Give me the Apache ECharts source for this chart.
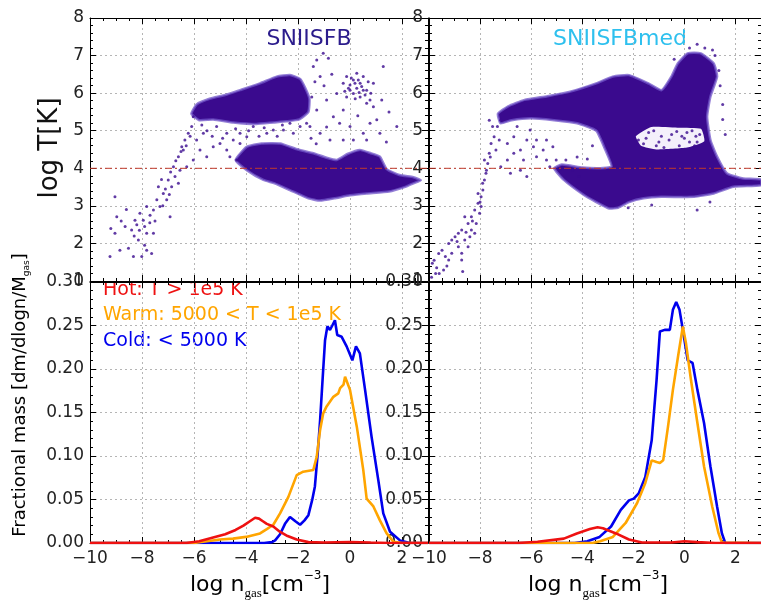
<!DOCTYPE html>
<html><head><meta charset="utf-8">
<script src="https://cdn.jsdelivr.net/npm/echarts@6/dist/echarts.min.js"></script>
<style>html,body{margin:0;padding:0;background:#fff}#c{width:761px;height:609px}</style>
</head><body><div id="c"></div>
<script>
// ---------- data ----------
const panelTitles = ['SNIISFB', 'SNIISFBmed'];
const legendLabels = ['Hot: T > 1e5 K', 'Warm: 5000 < T < 1e5 K', 'Cold: < 5000 K'];
const refLogT = 4;

// line profiles [log n, fractional mass]
const leftHot = [[-10,0],[-6.3,0],[-5.8,0.002],[-5.3,0.006],[-4.8,0.010],[-4.4,0.015],[-4.1,0.020],[-3.85,0.025],[-3.65,0.029],[-3.5,0.028],[-3.35,0.025],[-3.2,0.022],[-2.95,0.019],[-2.7,0.013],[-2.4,0.008],[-2.05,0.004],[-1.6,0.001],[-1,0.0005],[0,0.0012],[0.8,0.0005],[1.5,0],[3,0]];
const leftWarm = [[-10,0],[-6,0],[-5.5,0.002],[-5,0.004],[-4.5,0.005],[-4,0.007],[-3.46,0.011],[-3.2,0.016],[-2.95,0.021],[-2.69,0.034],[-2.37,0.053],[-2.05,0.078],[-1.8,0.082],[-1.41,0.084],[-1.28,0.099],[-1.15,0.13],[-1.03,0.149],[-0.9,0.157],[-0.64,0.168],[-0.45,0.172],[-0.38,0.178],[-0.25,0.182],[-0.19,0.191],[0.0,0.176],[0.26,0.134],[0.51,0.084],[0.64,0.051],[0.9,0.042],[1.15,0.026],[1.41,0.011],[1.67,0.0015],[2,0],[3,0]];
const leftCold = [[-10,0],[-3.3,0],[-3.0,0.001],[-2.88,0.003],[-2.69,0.010],[-2.5,0.022],[-2.31,0.030],[-2.1,0.025],[-1.92,0.021],[-1.75,0.026],[-1.6,0.032],[-1.45,0.050],[-1.35,0.065],[-1.25,0.10],[-1.15,0.141],[-1.05,0.19],[-0.96,0.233],[-0.87,0.249],[-0.77,0.245],[-0.68,0.25],[-0.58,0.256],[-0.49,0.239],[-0.32,0.237],[-0.13,0.226],[0.09,0.210],[0.23,0.226],[0.38,0.218],[0.58,0.176],[0.83,0.122],[1.09,0.072],[1.28,0.034],[1.54,0.013],[1.92,0.003],[2.3,0],[3,0]];
const rightHot = [[-10,0],[-6.5,0],[-5.75,0.0015],[-4.72,0.005],[-4.21,0.011],[-3.7,0.016],[-3.4,0.018],[-3.19,0.017],[-2.68,0.011],[-2.17,0.004],[-1.66,0.0005],[-0.5,0.0005],[0,0.002],[0.5,0.001],[1.2,0],[3,0]];
const rightWarm = [[-10,0],[-3.6,0],[-3.3,0.002],[-2.8,0.007],[-2.3,0.023],[-1.85,0.046],[-1.53,0.069],[-1.28,0.095],[-1.09,0.093],[-0.96,0.092],[-0.83,0.095],[-0.64,0.134],[-0.45,0.176],[-0.25,0.214],[-0.06,0.249],[0.06,0.230],[0.26,0.187],[0.51,0.138],[0.77,0.088],[1.09,0.042],[1.34,0.011],[1.47,0.0005],[3,0]];
const rightCold = [[-10,0],[-4.3,0],[-3.8,0.002],[-3.32,0.007],[-2.87,0.019],[-2.49,0.038],[-2.17,0.049],[-1.98,0.051],[-1.79,0.057],[-1.53,0.076],[-1.28,0.118],[-1.09,0.187],[-0.96,0.243],[-0.77,0.245],[-0.57,0.245],[-0.45,0.268],[-0.32,0.277],[-0.19,0.268],[-0.06,0.245],[0.13,0.210],[0.32,0.207],[0.51,0.176],[0.77,0.138],[1.02,0.088],[1.28,0.042],[1.47,0.011],[1.6,0],[3,0]];

// dense regions of the phase diagrams (outlines, [log n, log T])
const leftUpperBlob = [[-6.1,5.45],[-5.9,5.7],[-5.4,5.85],[-4.8,5.95],[-4.23,6.08],[-3.46,6.26],[-2.82,6.44],[-2.31,6.48],[-1.92,6.38],[-1.73,6.15],[-1.56,5.85],[-1.6,5.5],[-1.95,5.3],[-2.44,5.25],[-2.95,5.22],[-3.6,5.18],[-4.49,5.22],[-5.26,5.3],[-5.8,5.28]];
const leftLowerBlob = [[-4.4,4.22],[-3.97,4.57],[-3.4,4.66],[-2.69,4.66],[-2.0,4.5],[-1.41,4.4],[-0.9,4.28],[-0.51,4.22],[-0.1,4.38],[0.38,4.49],[0.8,4.4],[1.15,4.31],[1.41,3.98],[1.9,3.82],[2.44,3.76],[2.72,3.68],[2.44,3.6],[2.18,3.52],[1.5,3.38],[0.64,3.33],[0,3.28],[-0.6,3.2],[-1.15,3.14],[-1.6,3.2],[-2.31,3.42],[-2.9,3.6],[-3.33,3.69],[-3.97,3.95]];
const rightBlob = [[-7.3,5.45],[-6.9,5.65],[-6.26,5.82],[-5.36,5.92],[-4.47,6.04],[-3.45,6.26],[-2.81,6.44],[-2.17,6.48],[-1.41,6.26],[-0.89,6.08],[-0.51,6.44],[-0.26,6.79],[0.13,7.06],[0.64,7.06],[1.15,6.79],[1.28,6.44],[1.02,5.91],[0.89,5.37],[1.02,4.75],[1.28,4.31],[1.66,3.87],[2.3,3.73],[3,3.7],[3,3.55],[1.92,3.51],[1.15,3.33],[0.38,3.24],[-0.89,3.24],[-1.6,3.2],[-2.17,3.1],[-2.6,2.95],[-2.94,2.93],[-3.45,3.1],[-3.96,3.3],[-4.72,3.69],[-5.1,4.0],[-4.8,4.1],[-4.0,4.02],[-3.3,4.0],[-2.85,4.05],[-3.1,4.5],[-3.45,5.0],[-4.2,5.2],[-5.1,5.28],[-6.0,5.33],[-6.77,5.28],[-7.2,5.2]];
const rightHole = [[-1.9,4.85],[-1.3,5.1],[-0.2,5.08],[0.65,5.05],[0.78,4.72],[0.1,4.55],[-1.1,4.5],[-1.7,4.6]];

// individual sparse particles [log n, log T]
const leftSparse = [
[-9.23,1.65],[-9.04,2.27],[-8.85,1.82],[-8.52,1.87],[-8.33,1.65],[-8.01,1.65],[-7.82,1.82],[-7.63,1.73],[-8.97,2.71],[-8.65,2.45],[-8.4,2.36],[-8.27,2.62],[-8.08,2.8],[-7.95,2.62],[-7.82,2.98],[-7.69,2.75],[-7.56,2.89],[-7.43,3.16],[-7.31,2.98],[-7.18,3.33],[-7.05,3.16],[-6.92,2.71],[-6.86,3.51],[-6.99,3.69],[-6.73,3.78],[-6.79,4.04],[-6.54,3.95],[-6.6,4.31],[-6.41,4.49],[-6.35,4.75],[-6.22,4.93],[-6.09,5.11],[-6.03,5.37],[-6.47,4.57],[-7.82,2.27],[-8.14,2.09],[-7.56,2.27],[-7.37,3.51],[-9.04,3.24],[-8.2,2.5],[-8.1,2.35],[-7.9,2.45],[-8.3,2.2],[-7.7,2.55],[-7.5,2.6],[-7.2,3.0],[-7.1,3.45],[-6.9,3.9],[-6.7,4.2],[-6.5,4.45],[-6.3,4.6],[-6.15,4.85],[-6.6,3.6],[-6.95,3.3],[-7.25,3.7],[-8.6,2.9],[-8.8,2.6],[-9.2,2.4],[-7.9,1.95],
[-5.9,4.75],[-5.77,4.49],[-5.51,4.31],[-5.26,4.57],[-5.0,4.66],[-4.74,4.49],[-4.49,4.75],[-4.23,4.93],[-5.13,5.11],[-5.64,4.93],[-4.62,4.31],[-4.36,4.22],[-6.03,4.22],[-6.28,4.04],[-4.74,4.93],[-3.97,4.84],[-3.2,4.93],[-3.72,5.11],[-2.56,5.02],[-2.18,4.93],[-1.92,5.11],[-1.67,5.2],[-2.31,5.2],[-2.95,5.02],[-4.23,4.66],[-5.5,5.0],[-5.3,4.85],[-4.9,4.8],[-3.5,4.85],[-2.8,4.85],[-1.5,4.8],[-1.3,4.65],[-5.7,5.15],[-4.4,5.05],[-3.9,5.0],[-3.3,5.08],[-2.6,5.15],
[-1.41,6.71],[-1.28,6.88],[-1.03,7.06],[-0.83,6.93],[-1.15,6.44],[-1.47,5.9],[-1.28,5.55],[-0.9,5.82],[-0.64,5.37],[-0.51,5.99],[-0.26,5.55],[0.0,5.11],[0.13,4.75],[-0.26,4.75],[-0.77,4.75],[-1.15,4.93],[0.51,4.93],[0.77,5.2],[1.03,5.29],[1.15,4.93],[1.22,5.82],[1.28,6.71],[1.8,5.11],[0.64,4.75],[-1.54,5.11],[-1.92,5.55],[-1.0,6.2],[-0.7,6.5],[-1.35,6.3],[-0.4,5.2],[0.3,5.4],[-0.9,5.1],[1.5,5.5],[1.4,4.7],
[-0.26,6.26],[-0.13,6.44],[0.0,6.22],[0.13,6.35],[0.26,6.13],[0.39,6.26],[0.51,6.44],[0.64,6.08],[0.77,5.82],[0.13,5.99],[-0.13,5.9],[0.39,5.9],[0.9,6.26],[0.26,6.53],[0.0,6.08],[0.51,6.08],[0.19,6.26],[0.32,6.35],[-0.06,6.13],[0.64,5.73],[0.9,5.64],[0.05,6.4],[0.45,6.18],[0.7,6.3],[-0.2,6.05],[0.35,6.02],[0.58,5.95],[0.2,5.85],[0.8,6.0]
];
const rightSparse = [
[-9.87,1.47],[-9.74,1.2],[-9.49,1.82],[-9.36,1.65],[-9.23,2.0],[-9.11,1.74],[-8.98,2.18],[-8.85,1.91],[-8.72,2.36],[-8.72,1.74],[-8.6,2.09],[-8.47,2.53],[-8.4,2.18],[-8.34,2.71],[-8.21,2.89],[-8.15,2.53],[-8.08,3.07],[-8.02,2.8],[-7.96,3.24],[-7.89,3.42],[-7.83,3.69],[-7.77,3.87],[-7.7,4.13],[-7.83,4.22],[-7.64,4.4],[-7.57,4.66],[-7.45,4.84],[-7.38,4.49],[-7.32,5.11],[-7.19,5.28],[-7.25,4.75],[-7.51,5.11],[-7.64,5.28],[-8.34,2.36],[-8.85,2.27],[-9.23,1.56],[-9.62,1.73],[-8.08,3.33],[-7.96,2.98],[-8.6,2.71],[-8.21,2.27],[-8.47,1.91],[-8.72,1.56],[-9.11,2.09],[-9.43,1.29],[-9.9,1.1],[-9.7,1.35],[-9.8,1.55],[-9.6,1.2],[-8.68,1.25],[-9.3,1.4],[-8.9,2.05],[-8.55,2.3],[-8.3,2.6],[-8.0,3.1],[-7.9,3.6],[-7.75,3.95],[-7.6,4.3],
[-6.93,4.66],[-6.68,4.4],[-6.42,4.49],[-6.3,4.22],[-6.17,4.75],[-5.91,4.57],[-5.79,4.31],[-5.53,4.49],[-5.4,4.22],[-5.27,4.04],[-5.02,4.22],[-4.89,3.95],[-6.68,4.84],[-6.04,5.02],[-6.55,5.11],[-6.93,4.22],[-7.19,4.04],[-6.81,3.87],[-6.42,3.95],[-5.79,4.75],[-5.15,4.57],[-4.64,4.22],[-4.38,3.95],[-4.12,3.78],[-6.17,3.78],[-5.4,4.75],[-4.2,4.3],[-3.8,4.25],[-3.6,4.6],
[-1.5,4.8],[-1.0,4.7],[-0.5,4.9],[0,4.8],[0.5,4.7],[-1.2,5.0],[-0.2,4.6],[0.3,5.0],[-0.8,4.55],[0.6,4.9],[-1.8,4.75],[0.1,4.95],[-0.6,4.75],[0.4,4.6],[-1.4,4.95],[-0.9,4.85],[-0.3,4.98],[0.2,4.7],[-1.6,4.65],[-0.1,4.85],[0.45,4.85],[-1.1,4.6],
[0.5,7.3],[0.8,7.2],[1.2,7.0],[1.35,6.6],[1.4,6.2],[1.5,5.7],[1.6,4.9],[1.5,5.3],[0.2,7.2],[1.1,7.15],[-0.4,6.9],[0.5,2.89],[-1.28,3.02],[1.0,3.1],[-2.2,2.95]
];

// ---------- layout ----------
const FONT = 'DejaVu Sans';
const grids = [
  {left: 90, top: 18, width: 338, height: 263},
  {left: 429, top: 18, width: 339, height: 263},
  {left: 90, top: 282, width: 338, height: 261},
  {left: 429, top: 282, width: 339, height: 261}
];
const X_MIN = -10, X_MAX = 3;
const fmtMinus = v => (v < 0 ? '\u2212' + Math.abs(v) : String(v));
const tickCommon = {
  axisLine: {show: true, onZero: false, lineStyle: {color: '#000', width: 1}},
  axisTick: {show: true, inside: true, length: 6, lineStyle: {color: '#000'}},
};
const gridLine = {show: true, lineStyle: {color: '#b5b5b5', type: [2, 3], width: 1}};
const lab = {color: '#222', fontFamily: FONT, fontSize: 17};

const xAxis = [], yAxis = [];
grids.forEach((g, i) => {
  const bottomPanel = i >= 2;
  xAxis.push(Object.assign({gridIndex: i, type: 'value', min: X_MIN, max: X_MAX, interval: 2, position: 'bottom',
    minorTick: {show: true, splitNumber: 4, length: 3, lineStyle: {color: '#000'}},
    splitLine: gridLine,
    axisLabel: Object.assign({show: bottomPanel, margin: 7, showMaxLabel: false,
      formatter: v => (Math.abs(v % 2) < 1e-9 ? fmtMinus(v) : '')}, lab)}, tickCommon));
  xAxis.push(Object.assign({gridIndex: i, type: 'value', min: X_MIN, max: X_MAX, interval: 2, position: 'top',
    minorTick: {show: true, splitNumber: 4, length: 3, lineStyle: {color: '#000'}},
    splitLine: {show: false}, axisLabel: {show: false}}, tickCommon));
  const yr = bottomPanel ? {min: 0, max: 0.3, interval: 0.05} : {min: 1, max: 8, interval: 1};
  const yfmt = bottomPanel ? (v => v.toFixed(2)) : (v => String(Math.round(v)));
  yAxis.push(Object.assign({gridIndex: i, type: 'value', position: 'left',
    minorTick: {show: true, splitNumber: 5, length: 3, lineStyle: {color: '#000'}},
    splitLine: gridLine,
    axisLabel: Object.assign({show: true, margin: 6, formatter: yfmt}, lab)}, yr, tickCommon));
  yAxis.push(Object.assign({gridIndex: i, type: 'value', position: 'right',
    minorTick: {show: true, splitNumber: 5, length: 3, lineStyle: {color: '#000'}},
    splitLine: {show: false}, axisLabel: {show: false}}, yr, tickCommon));
});

const DOT = '#3a0a8e';
const EDGE = 'rgba(112,84,200,0.75)';
function blob(gi, pts, fill, stroke, lw) {
  return {
    type: 'custom', xAxisIndex: 2 * gi, yAxisIndex: 2 * gi, data: pts, clip: true, silent: true,
    encode: {x: 0, y: 1},
    renderItem: (params, api) => {
      if (params.dataIndex !== 0) return null;
      return {type: 'polygon', shape: {points: pts.map(p => api.coord(p)), smooth: 0.15},
        style: {fill: fill, stroke: stroke, lineWidth: lw}};
    }
  };
}
function dots(gi, pts) {
  return {type: 'scatter', xAxisIndex: 2 * gi, yAxisIndex: 2 * gi, data: pts, symbolSize: 3,
    itemStyle: {color: DOT}, silent: true, clip: true};
}
function refLine(gi) {
  return {type: 'line', xAxisIndex: 2 * gi, yAxisIndex: 2 * gi, data: [[X_MIN, refLogT], [X_MAX, refLogT]],
    showSymbol: false, silent: true, z: 5,
    lineStyle: {color: '#c0392b', width: 1.3, type: [7, 3, 2, 3], opacity: 0.8}};
}
function prof(gi, pts, color) {
  return {type: 'line', xAxisIndex: 2 * gi, yAxisIndex: 2 * gi, data: pts, showSymbol: false, silent: true,
    lineStyle: {color: color, width: 2.6}, clip: true};
}
const HOT = '#ee1111', WARM = '#ffa500', COLD = '#0000ee';

const series = [
  blob(0, leftUpperBlob, DOT, EDGE, 2.5), blob(0, leftLowerBlob, DOT, EDGE, 2.5), dots(0, leftSparse), refLine(0),
  blob(1, rightBlob, DOT, EDGE, 2.5), blob(1, rightHole, '#f4f0fb', 'rgba(0,0,0,0)', 0), dots(1, rightSparse), refLine(1),
  prof(2, leftCold, COLD), prof(2, leftWarm, WARM), prof(2, leftHot, HOT),
  prof(3, rightCold, COLD), prof(3, rightWarm, WARM), prof(3, rightHot, HOT)
];

const xTitleRich = {
  a: {fontFamily: FONT, fontSize: 22, color: '#111', lineHeight: 30, verticalAlign: 'middle'},
  s: {fontFamily: 'Liberation Serif', fontSize: 13, color: '#111', verticalAlign: 'bottom', lineHeight: 30, padding: [14, 0, 0, 0]},
  p: {fontFamily: FONT, fontSize: 12, color: '#111', verticalAlign: 'top', lineHeight: 30, padding: [0, 0, 12, 0]}
};
const xTitle = '{a|log n}{s|gas}{a|[cm}{p|\u22123}{a|]}';
const graphic = [
  {type: 'text', x: 309, y: 39, style: {text: panelTitles[0], fill: '#2b1c8c', font: '22px "DejaVu Sans"', textAlign: 'center', textVerticalAlign: 'middle'}},
  {type: 'text', x: 620, y: 39, style: {text: panelTitles[1], fill: '#2ec0ee', font: '22px "DejaVu Sans"', textAlign: 'center', textVerticalAlign: 'middle'}},
  {type: 'text', x: 50, y: 148, rotation: Math.PI / 2, style: {text: 'log T[K]', fill: '#111', font: '26px "DejaVu Sans"', textAlign: 'center', textVerticalAlign: 'middle'}},
  {type: 'text', x: 20, y: 395, rotation: Math.PI / 2, style: {
    text: '{a|Fractional mass [dm/dlogn/M}{s|gas}{a|]}', textAlign: 'center', textVerticalAlign: 'middle',
    rich: {a: {fontFamily: FONT, fontSize: 18, color: '#111', lineHeight: 22}, s: {fontFamily: FONT, fontSize: 9, color: '#111', lineHeight: 22, verticalAlign: 'bottom', padding: [8, 0, 0, 0]}}}},
  {type: 'text', x: 260, y: 585, style: {text: xTitle, rich: xTitleRich, textAlign: 'center', textVerticalAlign: 'middle'}},
  {type: 'text', x: 598, y: 585, style: {text: xTitle, rich: xTitleRich, textAlign: 'center', textVerticalAlign: 'middle'}},
  {type: 'text', x: 103, y: 290, style: {text: legendLabels[0], fill: HOT, font: '19px "DejaVu Sans"', textVerticalAlign: 'middle'}},
  {type: 'text', x: 103, y: 315, style: {text: legendLabels[1], fill: WARM, font: '19px "DejaVu Sans"', textVerticalAlign: 'middle'}},
  {type: 'text', x: 103, y: 341, style: {text: legendLabels[2], fill: COLD, font: '19px "DejaVu Sans"', textVerticalAlign: 'middle'}}
];

const chart = echarts.init(document.getElementById('c'), null, {renderer: 'canvas'});
chart.setOption({animation: false, backgroundColor: '#fff', grid: grids, xAxis, yAxis, series, graphic});
</script></body></html>
